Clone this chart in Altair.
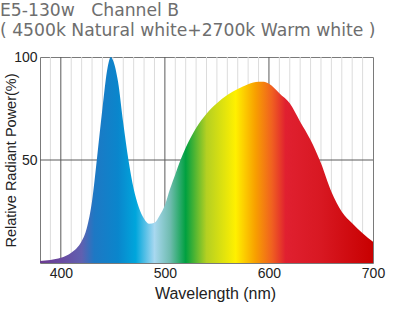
import altair as alt
import pandas as pd

# Spectrum data (wavelength nm, relative power %)
wavelengths = [380, 390, 400, 405, 410, 415, 420, 425, 430, 435, 440, 445, 448, 450, 455, 460, 465,
               470, 475, 480, 485, 490, 495, 500, 505, 510, 515, 520, 525, 530, 540, 550, 560,
               570, 580, 590, 595, 600, 605, 610, 620, 630, 640, 650, 660, 670, 680, 690, 700]
power = [1.0, 1.5, 2.5, 3.5, 5, 7, 10.5, 17, 30, 52, 75, 95, 100, 98.5, 88, 68, 50,
         36, 27, 21.5, 19, 19.5, 23, 28, 36, 43, 50, 56, 61, 65.5, 72.5, 77.5, 81.5,
         84.5, 86.8, 88, 88, 87, 85, 82.4, 77.5, 68.6, 59.7, 48.4, 34.6, 24.9, 19.3, 14.4, 10.3]

minor_grid = [390, 410, 420, 430, 440, 450, 460, 470, 480, 490, 510, 520, 530, 540, 550, 560,
              570, 580, 590, 610, 620, 630, 640, 650, 660, 670, 680, 690]
major_grid = [400, 500, 600]
h_grid = [50]

x_ticks = [400, 500, 600, 700]
y_ticks = [50, 100]

title_lines = ["E5-130w\u00a0\u00a0\u00a0Channel B", "\u00a0( 4500k Natural white+2700k Warm white )"]

# spectrum colour stops (wavelength, colour)
stop_wl = [380, 400, 420, 432, 455, 472, 490, 505, 520, 540, 568, 587, 603, 616, 650, 700]
stop_col = ["#6b3a90", "#6a4aa0", "#6060b0", "#1e78c4", "#0a86cc", "#00a6dc", "#a8d8f0",
            "#70bcb0", "#00a040", "#b4d022", "#fff000", "#f8a000", "#f06020", "#e02030",
            "#d81822", "#c80000"]

spec = pd.DataFrame({"wl": wavelengths, "p": power})
minor_df = pd.DataFrame({"wl": minor_grid})
major_df = pd.DataFrame({"wl": major_grid})
h_df = pd.DataFrame({"v": h_grid})

xmin, xmax = 380, 700
stops = [alt.GradientStop(offset=(w - xmin) / (xmax - xmin), color=c) for w, c in zip(stop_wl, stop_col)]

xscale = alt.Scale(domain=[xmin, xmax], nice=False, zero=False)
yscale = alt.Scale(domain=[0, 100], nice=False)

minor = alt.Chart(minor_df).mark_rule(color="#dcdcdc", strokeWidth=1).encode(
    x=alt.X("wl:Q", scale=xscale)
)
major = alt.Chart(major_df).mark_rule(color="#5a5a5a", strokeWidth=1).encode(
    x=alt.X("wl:Q", scale=xscale)
)
hrule = alt.Chart(h_df).mark_rule(color="#5a5a5a", strokeWidth=1).encode(
    y=alt.Y("v:Q", scale=yscale)
)

area = alt.Chart(spec).mark_area(
    interpolate="monotone",
    color=alt.Gradient(gradient="linear", stops=stops, x1=0, x2=1, y1=0, y2=0),
).encode(
    x=alt.X("wl:Q", scale=xscale,
            axis=alt.Axis(values=x_ticks, title="Wavelength (nm)", grid=False, ticks=False,
                          domain=False, labelFontSize=14, labelColor="#222", labelPadding=3,
                          labelFont="Liberation Sans", titleFont="Liberation Sans",
                          titleFontSize=16, titleFontWeight="normal", titleColor="#222",
                          titlePadding=5, titleX=175, titleAlign="center", labelFlush=False)),
    y=alt.Y("p:Q", scale=yscale,
            axis=alt.Axis(values=y_ticks, title="Relative Radiant Power(%)", grid=False,
                          ticks=False, domain=False, labelFontSize=14, labelColor="#222",
                          labelPadding=3, labelFont="Liberation Sans", titleFont="Liberation Sans",
                          titleFontSize=14.5, titleFontWeight="normal", titleColor="#222",
                          titleAngle=270, titleX=-29, titleY=103, titleBaseline="middle",
                          titleAlign="center", labelFlush=False)),
)

chart = alt.layer(minor, major, hrule, area).properties(
    width=333,
    height=206,
    autosize=alt.AutoSizeParams(type="none"),
    padding={"left": 40, "top": 57, "right": 27, "bottom": 62},
    title=alt.Title(
        text=title_lines,
        anchor="start", frame="group", dx=-40, offset=11,
        font="DejaVu Sans", fontSize=17.2, fontWeight="normal", color="#6e6e6e", lineHeight=20,
    ),
).configure_view(stroke="#7a7a7a", strokeWidth=1)

chart.save("out.html", embed_options={"renderer": "svg", "actions": False})
